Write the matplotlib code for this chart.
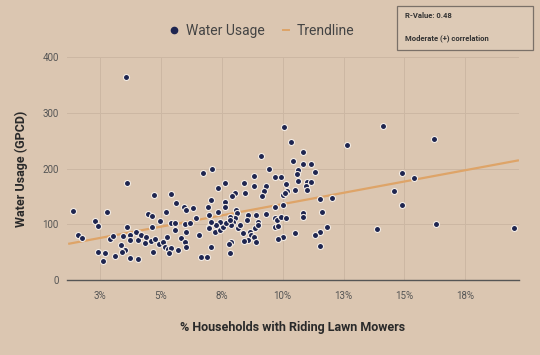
import matplotlib
matplotlib.use("Agg")
import matplotlib.pyplot as plt
from matplotlib.lines import Line2D
from matplotlib.patches import Rectangle

plt.rcParams['font.family'] = ['Roboto', 'DejaVu Sans']

# ---- data ----
pct_mowers = [
    1.41, 2.8, 2.32, 2.43, 1.61, 1.75, 3.63, 2.91, 3.05, 3.43, 3.73, 3.73, 3.36, 3.52, 3.39,
    3.11, 2.43, 2.7, 2.61, 3.73, 4.07, 4.07, 4.05, 3.63, 3.57,
    6.73, 7.12, 4.73, 5.41, 5.64, 5.95, 6.05, 6.32, 7.05, 6.94, 5.23, 4.48, 4.64, 4.96, 6.46,
    5.44, 5.57, 5.98, 6.19, 7.0, 4.64, 5.57, 6.05, 6.57, 4.0, 4.2, 4.41, 4.59, 4.75, 4.92,
    5.1, 5.19, 4.34, 5.27, 5.3, 5.44, 5.33, 5.85, 5.98, 6.05, 5.71, 4.68, 6.64, 6.91, 7.07,
    9.13, 9.43, 9.67, 9.94, 8.82, 7.62, 7.35, 8.42, 8.82, 9.33, 9.23, 9.15, 8.44, 8.03, 7.92,
    7.65, 7.62, 9.67, 10.01, 7.35, 7.0, 8.1, 8.14, 8.06, 7.96, 7.9, 7.83, 8.58, 8.55, 8.92,
    8.99, 9.33, 9.67, 9.78, 9.94, 7.0, 7.21, 7.42, 7.55, 7.69, 7.83, 7.42, 7.28, 7.07, 8.17,
    8.24, 8.37, 8.65, 8.72, 8.85, 8.99, 8.82, 8.92, 8.58, 8.41, 9.67, 9.8, 10.0, 9.8, 7.9,
    7.79, 7.83,
    10.05, 10.33, 12.65, 10.83, 10.42, 10.83, 11.15, 10.63, 10.6, 11.34, 10.63, 10.15, 11.0,
    11.17, 10.97, 11.0, 10.19, 10.01, 10.08, 10.52, 11.52, 12.02, 11.63, 10.83, 10.83, 10.15,
    11.82, 11.52, 11.34, 10.52, 11.52,
    14.14, 16.2, 14.9, 15.38, 14.59, 14.9, 13.88, 16.3, 19.5,
]
water_gpcd = [
    124, 123, 106, 97, 81, 75, 95, 73, 79, 80, 81, 72, 63, 54, 51,
    43, 51, 48, 34, 39, 84, 72, 38, 174, 365,
    193, 200, 153, 154, 138, 131, 126, 129, 144, 131, 123, 118, 115, 106, 112,
    103, 102, 100, 102, 96, 95, 90, 87, 81, 87, 81, 77, 71, 73, 65,
    69, 60, 66, 78, 55, 58, 49, 75, 69, 60, 54, 51, 42, 42, 60,
    223, 200, 185, 185, 187, 174, 165, 174, 168, 168, 159, 151, 157, 156, 150,
    141, 132, 132, 135, 123, 117, 126, 120, 111, 105, 99, 114, 117, 108, 117,
    105, 118, 111, 108, 113, 93, 87, 90, 95, 103, 108, 105, 99, 105, 93,
    99, 85, 87, 81, 93, 99, 78, 69, 72, 71, 96, 97, 78, 73, 69,
    65, 48,
    274, 247, 242, 230, 214, 208, 209, 197, 191, 194, 178, 172, 176,
    176, 168, 162, 159, 153, 156, 162, 145, 148, 123, 121, 114, 111,
    95, 87, 81, 84, 62,
    277, 254, 193, 184, 160, 134, 92, 100, 94,
]
trend_x = [1.2, 19.7]
trend_y = [65, 215]
x_ticks = [2.5, 5.0, 7.5, 10.0, 12.5, 15.0, 17.5]
x_tick_labels = ["3%", "5%", "8%", "10%", "13%", "15%", "18%"]
y_ticks = [0, 100, 200, 300, 400]
r_value = 0.48
corr_label = "Moderate (+) correlation"

# ---- style ----
bg = '#dbc6b1'
grid_c = '#ccb7a3'
dot_c = '#1e2550'
trend_c = '#dea468'

fig = plt.figure(figsize=(5.4, 3.55), dpi=100, facecolor=bg)
ax = fig.add_axes([0.124, 0.211, 0.837, 0.628], facecolor=bg)

ax.plot(trend_x, trend_y, color=trend_c, lw=1.6, zorder=2, solid_capstyle='butt')
ax.scatter(pct_mowers, water_gpcd, s=19, color=dot_c, edgecolors='#f5ede5',
           linewidths=0.8, zorder=3)

ax.set_xlim(1.15, 19.7)
ax.set_ylim(0, 400)
ax.set_xticks(x_ticks)
ax.set_xticklabels(x_tick_labels)
ax.set_yticks(y_ticks)
ax.grid(True, color=grid_c, lw=0.7)
ax.set_axisbelow(True)
for s in ['top', 'right', 'left']:
    ax.spines[s].set_visible(False)
ax.spines['bottom'].set_color('#555555')
ax.spines['bottom'].set_linewidth(1.0)
ax.tick_params(axis='both', length=0, labelsize=7, labelcolor='#555555', pad=6)
ax.tick_params(axis='x', pad=8)

ax.set_xlabel("% Households with Riding Lawn Mowers", fontsize=9, fontweight='bold',
              color='#2a2a2a', labelpad=14)
ax.set_ylabel("Water Usage (GPCD)", fontsize=9, fontweight='bold', color='#2a2a2a',
              labelpad=10)

handles = [
    Line2D([], [], marker='o', ls='none', color=dot_c, markersize=4.5),
    Line2D([], [], color=trend_c, lw=1.4),
]
fig.legend(handles, ["Water Usage", "Trendline"], loc='center', bbox_to_anchor=(0.487, 0.912),
           ncol=2, frameon=False, fontsize=10, labelcolor='#444444', handlelength=0.45,
           handletextpad=0.6, columnspacing=1.3)

fig.patches.append(Rectangle((0.735, 0.859), 0.252, 0.124, transform=fig.transFigure,
                             facecolor='#ddcab6', edgecolor='#7a7068', lw=0.9))
fig.text(0.75, 0.955, f"R-Value: {r_value}", fontsize=5.5, color='#333333',
         fontweight='bold', va='center')
fig.text(0.75, 0.893, corr_label, fontsize=5.5, color='#333333', fontweight='bold',
         va='center')

fig.savefig("out.png", dpi=100, facecolor=bg)
